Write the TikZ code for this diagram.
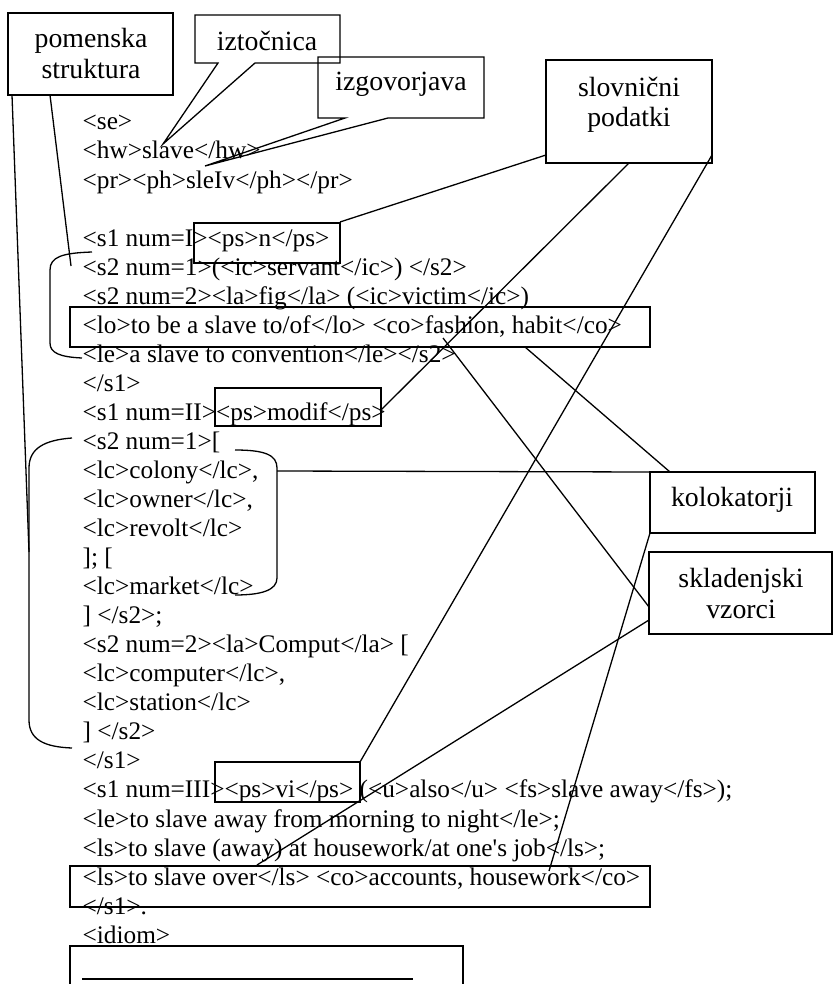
\documentclass[tikz,border=0pt]{standalone}
\usepackage{fontspec}
\newfontfamily\tnr{Liberation Serif}
\begin{document}
\begin{tikzpicture}[x=1pt,y=-1pt,line width=1.3pt,
  box/.style={draw,rectangle,inner sep=0pt,line width=1.3pt},
  code/.style={anchor=base west,inner sep=0pt,font=\tnr\fontsize{25.3}{29}\selectfont},
  lab/.style={anchor=base,inner sep=0pt,font=\tnr\fontsize{27.8}{31}\selectfont},
  conn/.style={draw,line width=1.3pt},
  brace/.style={draw,line width=1.3pt}]
\useasboundingbox (0,0) rectangle (833,984);

% ---- code lines ----
\node[code] (t0)  at (82,130.0) {<se>};
\node[code] (t1)  at (82,159.0) {<hw>slave</hw>};
\node[code] (t2)  at (82,188.1) {<pr><ph>sleIv</ph></pr>};
\node[code] (t4)  at (82,246.2) {<s1 num=I><ps>n</ps>};
\node[code] (t5)  at (82,275.2) {<s2 num=1>(<ic>servant</ic>) </s2>};
\node[code] (t6)  at (82,304.2) {<s2 num=2><la>fig</la> (<ic>victim</ic>)};
\node[code] (t7)  at (82,333.3) {<lo>to be a slave to/of</lo> <co>fashion, habit</co>};
\node[code] (t8)  at (82,362.3) {<le>a slave to convention</le></s2>};
\node[code] (t9)  at (82,391.4) {</s1>};
\node[code] (t10) at (82,420.4) {<s1 num=II><ps>modif</ps>};
\node[code] (t11) at (82,449.4) {<s2 num=1>[};
\node[code] (t12) at (82,478.5) {<lc>colony</lc>,};
\node[code] (t13) at (82,507.5) {<lc>owner</lc>,};
\node[code] (t14) at (82,536.6) {<lc>revolt</lc>};
\node[code] (t15) at (82,565.6) {]; [};
\node[code] (t16) at (82,594.6) {<lc>market</lc>};
\node[code] (t17) at (82,623.7) {] </s2>;};
\node[code] (t18) at (82,652.7) {<s2 num=2><la>Comput</la> [};
\node[code] (t19) at (82,681.8) {<lc>computer</lc>,};
\node[code] (t20) at (82,710.8) {<lc>station</lc>};
\node[code] (t21) at (82,739.8) {] </s2>};
\node[code] (t22) at (82,768.9) {</s1>};
\node[code] (t23) at (82,797.9) {<s1 num=III><ps>vi</ps> (<u>also</u> <fs>slave away</fs>);};
\node[code] (t24) at (82,827.0) {<le>to slave away from morning to night</le>;};
\node[code] (t25) at (82,856.0) {<ls>to slave (away) at housework/at one's job</ls>;};
\node[code] (t26) at (82,885.0) {<ls>to slave over</ls> <co>accounts, housework</co>};
\node[code] (t27) at (82,914.1) {</s1>.};
\node[code] (t28) at (82,943.1) {<idiom>};

% ---- label boxes ----
\node[box,minimum width=165pt,minimum height=82pt] (pom) at (90.5,54) {};
\node[lab] (pom1) at (91,48) {pomenska};
\node[lab] (pom2) at (91,79) {struktura};

\node[box,minimum width=166pt,minimum height=103pt] (slov) at (629,111.5) {};
\node[lab] (slov1) at (629,97) {slovnični};
\node[lab] (slov2) at (629,127) {podatki};

\node[box,minimum width=165pt,minimum height=61pt] (kol) at (732.5,502.5) {};
\node[lab] (kol1) at (732,506) {kolokatorji};

\node[box,minimum width=183pt,minimum height=82pt] (skl) at (740.5,593) {};
\node[lab] (skl1) at (741,587) {skladenjski};
\node[lab] (skl2) at (741,618) {vzorci};

% ---- callouts ----
\draw[line join=miter] (195,15) -- (340,15) -- (340,63) -- (255,63) -- (163,144) -- (218,63) -- (195,63) -- cycle;
\node[lab] (izt) at (267,51) {iztočnica};
\draw[line join=miter] (318,57) -- (484,57) -- (484,118) -- (388,118) -- (205,166) -- (345,118) -- (318,118) -- cycle;
\node[lab] (izg) at (401,91) {izgovorjava};

% ---- boxes round text ----
\node[box,minimum width=146pt,minimum height=40pt] (psn) at (267,243) {};
\node[box,minimum width=580pt,minimum height=40pt] (lo) at (360,327) {};
\node[box,minimum width=166pt,minimum height=38pt] (modif) at (298,407) {};
\node[box,minimum width=145pt,minimum height=40pt] (vi) at (287.5,782) {};
\node[box,minimum width=580pt,minimum height=41pt] (lsov) at (360,886.5) {};

% ---- brackets ----
\draw[brace] (92,252) .. controls (62,253) and (50,257) .. (50,270) -- (50,343) .. controls (50,353) and (60,357) .. (82,358);
\draw[brace] (72,438) .. controls (45,440) and (29,448) .. (29,468) -- (29,720) .. controls (29,740) and (45,747) .. (72,748);
\draw[brace] (235,450) .. controls (265,450) and (277,455) .. (277,468) -- (277,578) .. controls (277,590) and (262,595) .. (235,595);

% ---- connector end points ----
\coordinate (p1a) at (12,95);   \coordinate (p1b) at (29,552);
\coordinate (p2a) at (50,95);   \coordinate (p2b) at (71,266);
\coordinate (s1a) at (546,155); \coordinate (s1b) at (340,222);
\coordinate (s2a) at (629,163); \coordinate (s2b) at (380,411);
\coordinate (s3a) at (712,155); \coordinate (s3b) at (360,762);
\coordinate (k1a) at (525,347); \coordinate (k1b) at (670,472);
\coordinate (k2a) at (277,471); \coordinate (k2b) at (650,472);
\coordinate (k3a) at (650,533); \coordinate (k3b) at (549,871);
\coordinate (v1a) at (443,338); \coordinate (v1b) at (649,607);
\coordinate (v2a) at (649,620); \coordinate (v2b) at (257,865);

\draw[conn] (p1a) -- (p1b);
\draw[conn] (p2a) -- (p2b);
\draw[conn] (s1a) -- (s1b);
\draw[conn] (s2a) -- (s2b);
\draw[conn] (s3a) -- (s3b);
\draw[conn] (k1a) -- (k1b);
\draw[conn] (k2a) -- (k2b);
\draw[conn] (k3a) -- (k3b);
\draw[conn] (v1a) -- (v1b);
\draw[conn] (v2a) -- (v2b);

% ---- idiom box ----
\coordinate (ib1) at (70,984); \coordinate (ib2) at (70,946);
\coordinate (ib3) at (463,946); \coordinate (ib4) at (463,984);
\draw (ib1) -- (ib2) -- (ib3) -- (ib4);
\coordinate (hl1) at (82,979); \coordinate (hl2) at (413,979);
\draw[line width=2.6pt] (hl1) -- (hl2);
\end{tikzpicture}
\end{document}
